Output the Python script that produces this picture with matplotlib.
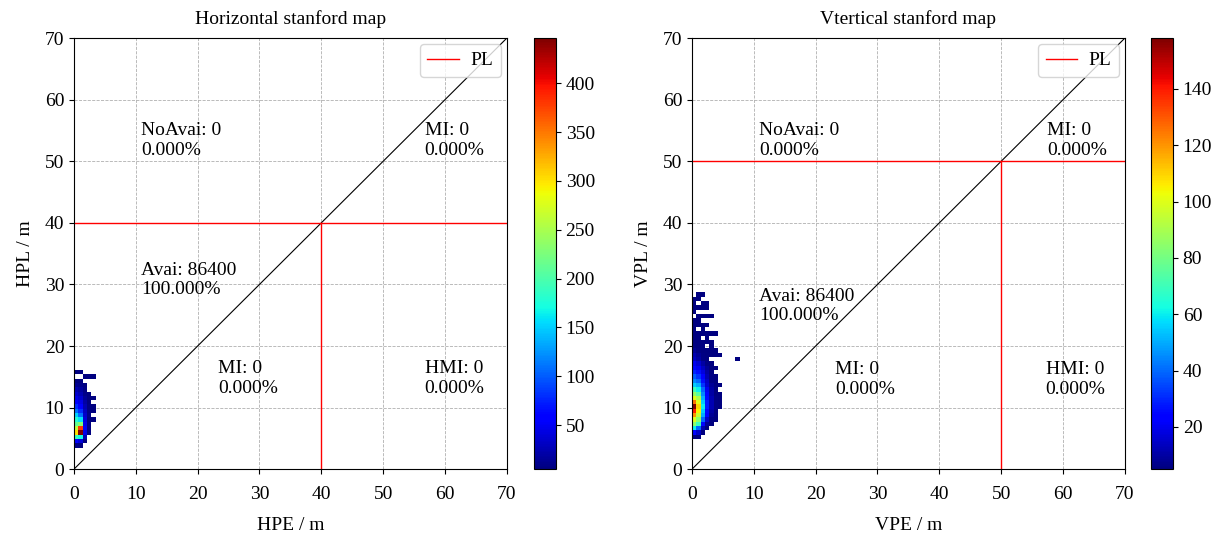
import numpy as np
import matplotlib
matplotlib.use("Agg")
import matplotlib.pyplot as plt

plt.rcParams['font.family'] = ['Liberation Serif', 'DejaVu Serif']
plt.rcParams['font.size'] = 14

# histogram cell size (m) and lowest row of each cluster
celda = 0.7
y0_h = 3.5
y0_v = 4.9

# conteos horizontales, filas de abajo hacia arriba, columnas desde HPE=0
conteoH = [
    [10, 6],
    [60, 40, 6],
    [190, 170, 25],
    [300, 446, 45, 6],
    [260, 380, 50, 8],
    [210, 230, 45, 8],
    [180, 160, 40, 6, 5],
    [150, 110, 35, 10],
    [110, 80, 30, 8, 5],
    [80, 60, 25, 8, 5],
    [60, 45, 20, 6],
    [45, 35, 15, 5, 5],
    [35, 25, 10, 5],
    [25, 18, 8],
    [12, 10, 5],
    [6, 5],
    [0, 0, 5, 5, 5],
    [5, 5],
]

# conteos verticales
conteoV = [
    [5, 5],
    [25, 15, 5],
    [60, 40, 12, 5],
    [85, 70, 25, 8, 5],
    [100, 85, 40, 15, 6, 5],
    [120, 95, 50, 22, 8, 5],
    [140, 105, 55, 25, 10, 5],
    [158, 110, 60, 28, 12, 6, 5],
    [125, 100, 55, 28, 12, 6, 5],
    [100, 90, 50, 25, 12, 6, 5],
    [85, 75, 45, 22, 10, 5, 5],
    [70, 60, 40, 20, 10, 5],
    [55, 50, 32, 16, 8, 5, 5],
    [45, 40, 26, 14, 6, 5],
    [38, 32, 22, 12, 6, 5],
    [30, 26, 18, 10, 5],
    [25, 20, 14, 8, 5, 5],
    [20, 16, 10, 6, 5],
    [14, 10, 6, 5, 0, 0, 0, 0, 0, 0, 5],
    [12, 8, 6, 5, 5, 5, 5],
    [8, 6, 5, 5, 5, 5],
    [6, 5, 5, 0, 5],
    [5, 5, 5, 5, 5],
    [5, 5, 0, 5],
    [5, 5, 5, 5, 5, 5],
    [5, 0, 5],
    [5, 5, 5, 5],
    [5, 5, 0, 0],
    [0, 5, 5, 5, 5],
    [5, 0, 0],
    [5, 5, 5, 5, 0],
    [5, 0, 5, 5],
    [5, 5, 0],
    [0, 5, 5],
]

# textos de cada region: (texto, x, y)
textosH = [
    ("NoAvai: 0\n0.000%", 10.8, 53.4),
    ("MI: 0\n0.000%", 56.7, 53.4),
    ("Avai: 86400\n100.000%", 10.8, 30.7),
    ("MI: 0\n0.000%", 23.3, 14.7),
    ("HMI: 0\n0.000%", 56.7, 14.7),
]
textosV = [
    ("NoAvai: 0\n0.000%", 10.8, 53.4),
    ("MI: 0\n0.000%", 57.5, 53.4),
    ("Avai: 86400\n100.000%", 10.8, 26.5),
    ("MI: 0\n0.000%", 23.1, 14.6),
    ("HMI: 0\n0.000%", 57.2, 14.6),
]

AL_H = 40
AL_V = 50
lim = 70


def matriz(conteo):
    ncol = max(len(f) for f in conteo)
    m = np.zeros((len(conteo), ncol))
    for i in range(len(conteo)):
        for j in range(len(conteo[i])):
            m[i][j] = conteo[i][j]
    return np.ma.masked_equal(m, 0)


def stanford(ax, cax, conteo, y0, AL, textos, titulo, xl, yl):
    m = matriz(conteo)
    xe = np.arange(m.shape[1] + 1) * celda
    ye = y0 + np.arange(m.shape[0] + 1) * celda
    pc = ax.pcolormesh(xe, ye, m, cmap='jet')
    ax.plot([0, lim], [0, lim], color='k', lw=0.8)
    ax.plot([0, lim], [AL, AL], color='#ff0000', lw=1.0, label='PL')
    ax.plot([AL, AL], [0, AL], color='#ff0000', lw=1.0)
    for t, x, y in textos:
        ax.text(x, y, t, ha='left', va='center', fontsize=14)
    ax.set_xlim(0, lim)
    ax.set_ylim(0, lim)
    ax.set_xticks(range(0, 71, 10))
    ax.set_yticks(range(0, 71, 10))
    ax.tick_params(axis='x', pad=9)
    ax.grid(True, linestyle='--', color='#b0b0b0', lw=0.6)
    ax.set_axisbelow(True)
    ax.set_title(titulo, fontsize=14, pad=10)
    ax.set_xlabel(xl, fontsize=14, labelpad=10)
    ax.set_ylabel(yl, fontsize=14, labelpad=8)
    ax.legend(loc='upper right', fontsize=14, handlelength=1.6,
              handletextpad=0.6, borderaxespad=0.3)
    plt.colorbar(pc, cax=cax)


fig = plt.figure(figsize=(12.19, 5.38), dpi=100)
ax1 = fig.add_axes([0.0607, 0.128, 0.355, 0.801])
cax1 = fig.add_axes([0.438, 0.128, 0.018, 0.801])
ax2 = fig.add_axes([0.5677, 0.128, 0.355, 0.801])
cax2 = fig.add_axes([0.9442, 0.128, 0.018, 0.801])

stanford(ax1, cax1, conteoH, y0_h, AL_H, textosH, "Horizontal stanford map", "HPE / m", "HPL / m")
stanford(ax2, cax2, conteoV, y0_v, AL_V, textosV, "Vtertical stanford map", "VPE / m", "VPL / m")

fig.savefig("out.png", dpi=100)
